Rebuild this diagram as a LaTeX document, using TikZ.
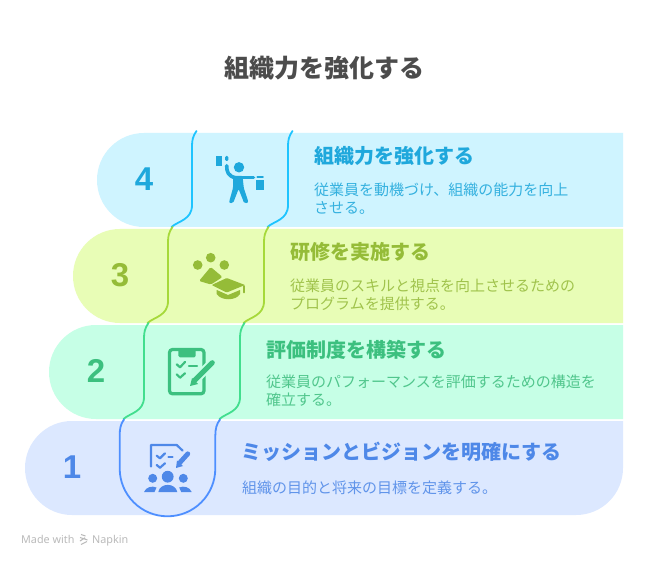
\documentclass[tikz,border=0pt]{standalone}
\usepackage{fontspec}
\setmainfont{Noto Sans CJK JP}
\newfontfamily\digitfont{Liberation Sans}
\newfontfamily\markfont{Noto Sans}
\definecolor{fillD}{HTML}{CFF4FF}\definecolor{textD}{HTML}{1FA8DC}\definecolor{lineD}{HTML}{1EC4FF}
\definecolor{fillC}{HTML}{E8FDB6}\definecolor{textC}{HTML}{95BC38}\definecolor{lineC}{HTML}{A6D93A}
\definecolor{fillB}{HTML}{C6FFE6}\definecolor{textB}{HTML}{3CC07F}\definecolor{lineB}{HTML}{42DE8E}
\definecolor{fillA}{HTML}{DCE8FF}\definecolor{textA}{HTML}{4E88E8}\definecolor{lineA}{HTML}{4E8FFF}
\tikzset{
  titletext/.style={anchor=center,inner sep=0pt,font=\fontsize{25}{25}\selectfont\bfseries,text=black!70},
  headtext/.style={anchor=west,inner sep=0pt,text height=17pt,text depth=3pt,font=\fontsize{20}{20}\selectfont\bfseries},
  bodytext/.style={anchor=west,inner sep=0pt,text height=13pt,text depth=2pt,font=\fontsize{15}{15}\selectfont},
  digittext/.style={anchor=center,inner sep=0pt,font=\fontsize{33}{33}\digitfont\bfseries},
  wave/.style={line width=1.8pt,line cap=round,line join=round},
  iconline/.style={line width=#1,line cap=round,line join=round},
  iconline/.default=2pt,
  marktext/.style={anchor=base west,inner sep=0pt,text=black!27,font=\fontsize{10.8}{11}\markfont},
}
\newcommand{\bandshape}[3]{% colour, left x, top y
  \fill[#1] (623,#3) -- ({#2+47},#3) arc[start angle=-90,end angle=-270,radius=47] -- (623,{#3+94}) -- cycle;}
\newcommand{\waveline}[3]{% colour, x, top y
  \draw[wave,#1] ({#2+4.5},{#3-2}) .. controls ({#2+1},{#3+3}) and (#2,{#3+7}) .. (#2,{#3+13})
    -- (#2,{#3+72}) .. controls (#2,{#3+87}) and ({#2-14},{#3+88}) .. ({#2-20.5},{#3+94});}
\begin{document}
\begin{tikzpicture}[x=1pt,y=-1pt]
\useasboundingbox (0,0) rectangle (648,564);
\fill[white] (0,0) rectangle (648,564);
\node[titletext] (title) at (324.5,68) {組織力を強化する};
% bands
\bandshape{fillD}{97}{133}
\bandshape{fillC}{73}{229}
\bandshape{fillB}{49}{325}
\fill[fillA] (623,421) -- (72,421) arc[start angle=-90,end angle=-270,radius=47] -- (576,515) arc[start angle=90,end angle=0,radius=47] -- cycle;
% column bottom of band 1
\fill[fillA] (119.7,468.5) arc[start angle=180,end angle=0,radius=47.8] -- cycle;
% wave lines
\waveline{lineD}{192}{133}\waveline{lineD}{288}{133}
\waveline{lineC}{168}{229}\waveline{lineC}{264}{229}
\waveline{lineB}{144}{325}\waveline{lineB}{240}{325}
\draw[wave,lineA] (124,419.5) .. controls (120.5,424) and (119.7,429) .. (119.7,436) -- (119.7,468.5)
  arc[start angle=180,end angle=0,radius=47.8] -- (215.3,436) .. controls (215.3,429) and (216.5,424) .. (220,419.5);
% digits
\node[digittext,text=textD] (n4) at (144,179) {4};
\node[digittext,text=textC] (n3) at (120,275) {3};
\node[digittext,text=textB] (n2) at (96,371) {2};
\node[digittext,text=textA] (n1) at (72,467) {1};
% texts
\node[headtext,text=textD] (h4) at (314,157) {組織力を強化する};
\node[bodytext,text=textD!90] (b4a) at (314,190) {従業員を動機づけ、組織の能力を向上};
\node[bodytext,text=textD!90] (b4b) at (314,208) {させる。};
\node[headtext,text=textC] (h3) at (290,253) {研修を実施する};
\node[bodytext,text=textC!90] (b3a) at (290,286) {従業員のスキルと視点を向上させるための};
\node[bodytext,text=textC!90] (b3b) at (290,304) {プログラムを提供する。};
\node[headtext,text=textB] (h2) at (266,350) {評価制度を構築する};
\node[bodytext,text=textB!90] (b2a) at (266,382) {従業員のパフォーマンスを評価するための構造を};
\node[bodytext,text=textB!90] (b2b) at (266,400) {確立する。};
\node[headtext,text=textA] (h1) at (241,452) {ミッションとビジョンを明確にする};
\node[bodytext,text=textA!90] (b1a) at (242,488) {組織の目的と将来の目標を定義する。};
% icon 4
\begin{scope}[textD]
\fill (216,156) rectangle (222.3,166);
\fill[rounded corners=1.2pt] (225.2,156) rectangle (228.4,161);
\fill (239,167.3) circle[radius=5.2];
\draw[iconline=3.6pt] (226.7,165.7) .. controls (226.7,172) and (228,176) .. (236,178);
\draw[iconline=3.6pt] (240,177.6) -- (253.5,177.6);
\fill[rounded corners=1.2pt] (233,175.8) -- (242.5,175.8) -- (243.8,188) -- (248,200.5) .. controls (248,203.5) and (244,203.5) .. (243.3,200.8)
  -- (238.6,189) -- (234,200.8) .. controls (233,203.5) and (229,203.5) .. (229.5,200.5) -- (233,188) -- cycle;
\draw[iconline=2.2pt] (257.5,176.8) -- (262.8,176.8);
\fill (256,180) rectangle (264,190);
\end{scope}
% icon 3
\begin{scope}[textC]
\fill (197.7,265) circle[radius=4.8];
\fill (210.7,257.7) circle[radius=4.8];
\fill (224.3,265) circle[radius=4.8];
\fill[rounded corners=1.5pt] (210.7,267) -- (222.5,277) -- (211,284.5) -- (199,281) -- cycle;
\fill[rounded corners=.7pt] (211.7,285) -- (226.7,278) -- (245,285) -- (226.7,292.5) -- cycle;
\fill (216.7,290) -- (228,295) -- (240,290) -- (240,294) .. controls (236,301) and (221,301) .. (216.7,294) -- cycle;
\draw[iconline=1.8pt] (244,286) -- (244,292.5);
\end{scope}
% icon 2
\begin{scope}[textB]
\draw[line width=3.2pt,rounded corners=3pt] (169.5,349.5) rectangle (204,393.8);
\fill[rounded corners=1.5pt] (178.3,349) -- (195.7,349) -- (195.7,357.3) -- (178.3,357.3) -- cycle;
\draw[iconline=2.2pt] (176.7,364.3) -- (180,367.3) -- (185,362);
\draw[iconline=2.2pt] (176.7,374.3) -- (180,377.7) -- (185,373.3);
\draw[iconline=2.2pt] (189,366) -- (197,366);
\draw[line width=9pt,line cap=round,fillB] (194,381) -- (212.5,362.5);
\draw[line width=5pt,line cap=round] (195,380) -- (212.3,362.7);
\fill (190,386) -- (192,378) -- (198,384) -- cycle;
\end{scope}
% icon 1
\begin{scope}[textA]
\draw[iconline=2.2pt] (151,466.5) -- (151,445) -- (176.7,445) -- (182.5,450.5);
\draw[iconline=2.2pt] (156.7,455.7) -- (160,458.3) -- (165,453.3);
\draw[iconline=2.2pt] (156.7,465) -- (160,467.7) -- (165,463.3);
\draw[iconline=2.2pt] (168.5,456.7) -- (172.5,456.7);
\draw[line width=4.8pt,line cap=round] (179.5,463) -- (187.8,453.8);
\fill (176,468) -- (177,460.5) -- (183,466) -- cycle;
\fill (152.7,478.3) circle[radius=4.5];
\fill (167.7,476.7) circle[radius=5.9];
\fill (183.3,478.3) circle[radius=4.5];
\fill (158.3,492) .. controls (160,482.5) and (175.5,482.5) .. (177.3,492) -- cycle;
\fill (144,492) .. controls (146,487) and (152,485.5) .. (156.5,487.5) .. controls (155,489) and (155,490) .. (154.5,492) -- cycle;
\fill (191.7,492) .. controls (189.7,487) and (183.7,485.5) .. (179.2,487.5) .. controls (180.7,489) and (180.7,490) .. (181.2,492) -- cycle;
\end{scope}
% watermark
\node[marktext] (m1) at (21,543) {Made with};
\draw[black!27,line width=1.1pt] (81,534.5) -- (85.5,536) (80,537.5) -- (87.5,540) (80,541) -- (85,537.8) (81,544.5) -- (87,541.5);
\node[marktext] (m2) at (92,543) {Napkin};
\end{tikzpicture}
\end{document}
